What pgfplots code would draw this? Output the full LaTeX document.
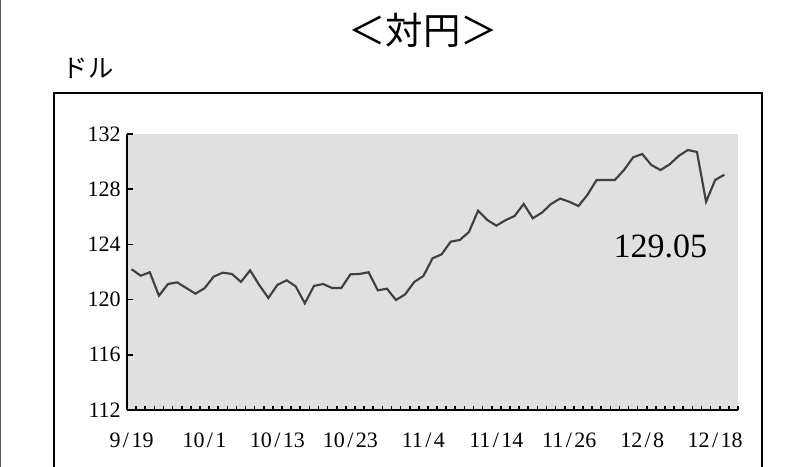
\documentclass[border=0pt]{standalone}
\usepackage{fontspec}
\setmainfont{Liberation Serif}
\newfontfamily\cjk{Noto Sans CJK JP}
\usepackage{pgfplots}
\pgfplotsset{compat=1.18}
\definecolor{bgGray}{RGB}{224,224,224}
\definecolor{lineGray}{RGB}{64,64,64}
\newcommand{\dsl}{\kern.11em/\kern.11em}
\begin{document}
\begin{tikzpicture}
\useasboundingbox (0pt,0pt) rectangle (605.25pt,350.25pt);
\fill[white] (0pt,0pt) rectangle (605.25pt,350.25pt);
\draw[line width=0.8pt, gray!70!black] (0.4pt,0pt) -- (0.4pt,350.25pt);
\draw[line width=1pt, black] (40.5pt,-2pt) -- (40.5pt,280.5pt) -- (571.5pt,280.5pt) -- (571.5pt,-2pt);
\node[font=\cjk\fontsize{28}{28}\selectfont] at (317.25pt,327.75pt) {＜対円＞};
\node[font=\cjk\fontsize{19}{19}\selectfont] at (66pt,299.25pt) {ドル};
\begin{axis}[
  at={(95.25pt,42.75pt)}, anchor=south west,
  scale only axis, width=458.25pt, height=207pt,
  xmin=-0.5, xmax=66.5, ymin=112, ymax=132,
  axis x line*=bottom, axis y line*=left,
  axis line style={line width=1.5pt, -},
  axis background/.style={fill=bgGray},
  tick align=inside,
  major tick length=4.5pt, minor tick length=3pt,
  every tick/.style={black, line width=1.2pt},
  ytick={112,116,120,124,128,132},
  xtick={-100},
  minor xtick={-0.5,0.5,...,66.5},
  extra x ticks={0,8,16,24,32,40,48,56,64},
  extra x tick labels={9\dsl19,10\dsl1,10\dsl13,10\dsl23,11\dsl4,11\dsl14,11\dsl26,12\dsl8,12\dsl18},
  extra x tick style={major tick length=0pt},
  /pgf/number format/assume math mode=true,
  tick label style={font=\fontsize{16.5}{16.5}\selectfont},
  yticklabel style={inner sep=0pt, anchor=east, xshift=-4.5pt},
  xticklabel style={inner sep=0pt, anchor=north, yshift=-17pt},
  clip=false,
]
\addplot[lineGray, line width=1.6pt, mark=none] coordinates {
(0,122.2) (1,121.73) (2,121.98) (3,120.28) (4,121.13) (5,121.25) (6,120.84) (7,120.43)
(8,120.82) (9,121.66) (10,121.95) (11,121.86) (12,121.28) (13,122.12) (14,121.06) (15,120.12)
(16,121.07) (17,121.40) (18,120.96) (19,119.73) (20,120.99) (21,121.13) (22,120.84) (23,120.84)
(24,121.83) (25,121.86) (26,121.98) (27,120.67) (28,120.79) (29,119.97) (30,120.38) (31,121.28)
(32,121.71) (33,122.99) (34,123.28) (35,124.20) (36,124.32) (37,124.90) (38,126.44) (39,125.77)
(40,125.36) (41,125.75) (42,126.06) (43,126.93) (44,125.89) (45,126.30) (46,126.93) (47,127.32)
(48,127.09) (49,126.78) (50,127.60) (51,128.67) (52,128.67) (53,128.67) (54,129.39) (55,130.31)
(56,130.55) (57,129.75) (58,129.39) (59,129.80) (60,130.41) (61,130.84) (62,130.70) (63,127.09)
(64,128.67) (65,129.05)
};
\node[font=\fontsize{25.5}{25.5}\selectfont] at (axis cs:58,123.85) {129.05};
\end{axis}
\end{tikzpicture}
\end{document}
